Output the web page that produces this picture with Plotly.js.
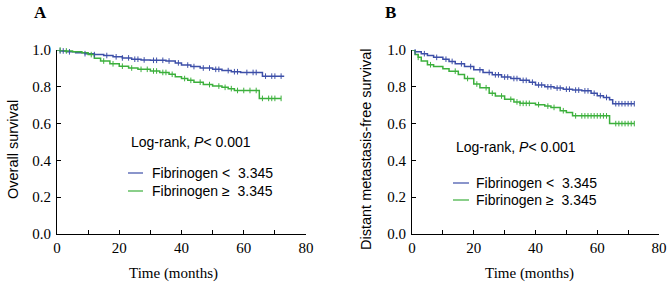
<!DOCTYPE html>
<html><head><meta charset="utf-8">
<script src="https://cdn.plot.ly/plotly-3.0.1.min.js"></script>
<style>html,body{margin:0;padding:0;background:#fff}</style>
</head><body><div id="c" style="width:669px;height:286px"></div>
<script>
// ---- Data ----
// Panel A: Overall survival
const osLowT  = [0,1,3,6,9,12,15,18,21,24,27,30,35,38,40,43,46,50,53,56,59,66,73];
const osLowS  = [1.0,0.995,0.99,0.985,0.98,0.975,0.97,0.963,0.957,0.95,0.946,0.944,0.94,0.93,0.918,0.91,0.902,0.895,0.888,0.882,0.878,0.858,0.858];
const osLowCens = [1,2,4,9,12,16,19,21,23,25,26,28,31,32,34,36,39,42,44,47,49,51,52,55,57,58,61,63,64,67,69,70,72];
const osHighT = [0,2,5,8,10,12,14,17,20,23,26,30,33,36,38,40,42,44,47,50,53,55,57,65,72];
const osHighS = [1.0,0.995,0.99,0.985,0.975,0.955,0.94,0.925,0.912,0.902,0.895,0.886,0.878,0.868,0.855,0.845,0.835,0.825,0.812,0.804,0.797,0.79,0.78,0.737,0.737];
const osHighCens = [1,3,11,15,18,21,24,27,29,31,32,34,35,37,41,43,46,49,52,54,56,58,60,62,64,66,68,69,70,72];

// Panel B: Distant metastasis-free survival
const dmLowT  = [0,1,3,5,7,10,12,14,17,20,23,26,29,32,35,38,40,43,46,49,52,55,58,60,62,64,65,72];
const dmLowS  = [1.0,0.99,0.98,0.97,0.96,0.95,0.938,0.925,0.91,0.892,0.878,0.865,0.853,0.845,0.835,0.825,0.81,0.8,0.793,0.787,0.782,0.778,0.765,0.752,0.742,0.73,0.708,0.708];
const dmLowCens = [1,4,8,11,13,16,19,22,25,27,28,30,31,33,34,36,37,39,41,42,44,45,47,48,50,51,53,54,56,57,59,61,63,66,67,68,69,70,71,72];
const dmHighT = [0,1,2,3,5,7,10,12,15,17,20,22,25,27,30,33,35,40,43,45,48,50,52,64,72];
const dmHighS = [1.0,0.975,0.96,0.94,0.92,0.91,0.898,0.885,0.867,0.845,0.815,0.795,0.765,0.75,0.732,0.718,0.71,0.703,0.695,0.688,0.67,0.66,0.642,0.6,0.6];
const dmHighCens = [2,6,14,18,21,24,26,29,32,34,35,36,37,38,41,44,46,49,53,55,56,57,58,59,60,61,62,63,66,67,68,69,70,71,72];

const xTicks = [0,10,20,30,40,50,60,70,80];
const xTickText = ['0','','20','','40','','60','','80'];
const yTicks = [0,0.2,0.4,0.6,0.8,1.0];
const yTickText = ['0.0','0.2','0.4','0.6','0.8','1.0'];

const labelLow = 'Fibrinogen <\u00A0\u00A03.345';
const labelHigh = 'Fibrinogen \u2265\u00A0\u00A03.345';
const pText = 'Log-rank, <i>P</i>< 0.001';

// ---- Styles ----
const BLUE = '#3d4fa8';
const GREEN = '#3cb03c';
const W = 669, H = 286;
const px = v => v / W;
const py = v => 1 - v / H;

function stepAt(ts, ss, t) {
  let v = ss[0];
  for (let i = 0; i < ts.length; i++) { if (ts[i] <= t) v = ss[i]; }
  return v;
}
function curve(ts, ss, color, xa, ya) {
  return {x: ts, y: ss, xaxis: xa, yaxis: ya, mode: 'lines', line: {shape: 'hv', color: color, width: 1.5},
          cliponaxis: false, showlegend: false, hoverinfo: 'skip'};
}
function cens(times, ts, ss, color, xa, ya) {
  return {x: times, y: times.map(t => stepAt(ts, ss, t)), xaxis: xa, yaxis: ya, mode: 'markers',
          marker: {symbol: 'line-ns', size: 4, color: color, line: {color: color, width: 1}},
          cliponaxis: false, showlegend: false, hoverinfo: 'skip'};
}

const data = [
  curve(osLowT, osLowS, BLUE, 'x', 'y'),
  curve(osHighT, osHighS, GREEN, 'x', 'y'),
  cens(osLowCens, osLowT, osLowS, BLUE, 'x', 'y'),
  cens(osHighCens, osHighT, osHighS, GREEN, 'x', 'y'),
  curve(dmLowT, dmLowS, BLUE, 'x2', 'y2'),
  curve(dmHighT, dmHighS, GREEN, 'x2', 'y2'),
  cens(dmLowCens, dmLowT, dmLowS, BLUE, 'x2', 'y2'),
  cens(dmHighCens, dmHighT, dmHighS, GREEN, 'x2', 'y2')
];

const serif = 'Liberation Serif, Times New Roman, serif';
const sans = 'Liberation Sans, Arial, sans-serif';

function xax(domain, anchor) {
  return {domain: domain, anchor: anchor, range: [0, 80], tickmode: 'array', tickvals: xTicks, ticktext: xTickText,
    ticks: 'inside', ticklen: 4, tickwidth: 1, tickcolor: '#000', showline: true, linecolor: '#000', linewidth: 1,
    showgrid: false, zeroline: false, tickfont: {family: serif, size: 15, color: '#000'}, fixedrange: true};
}
function yax(domain, anchor) {
  return {domain: domain, anchor: anchor, range: [0, 1], tickmode: 'array', tickvals: yTicks, ticktext: yTickText,
    ticks: 'inside', ticklen: 4, tickwidth: 1, tickcolor: '#000', showline: true, linecolor: '#000', linewidth: 1,
    showgrid: false, zeroline: false, tickfont: {family: serif, size: 15, color: '#000'}, ticklabelstandoff: 2, fixedrange: true};
}

const yDom = [py(234), py(50)];
function ann(text, x, y, opts) {
  return Object.assign({text: text, x: px(x), y: py(y), xref: 'paper', yref: 'paper', showarrow: false,
    xanchor: 'left', yanchor: 'middle', font: {family: sans, size: 14, color: '#000'}}, opts || {});
}
function seg(x0, x1, y, color) {
  return {type: 'line', xref: 'paper', yref: 'paper', x0: px(x0), x1: px(x1), y0: py(y), y1: py(y),
    line: {color: color, width: 1.2}};
}

const layout = {
  width: W, height: H, margin: {l: 0, r: 0, t: 0, b: 0}, paper_bgcolor: '#fff', plot_bgcolor: '#fff',
  showlegend: false,
  xaxis: xax([px(57), px(306)], 'y'),
  yaxis: yax(yDom, 'x'),
  xaxis2: xax([px(412), px(659)], 'y2'),
  yaxis2: yax(yDom, 'x2'),
  annotations: [
    ann('<b>A</b>', 32, 12, {font: {family: serif, size: 17, color: '#000'}}),
    ann('<b>B</b>', 383, 12, {font: {family: serif, size: 17, color: '#000'}}),
    ann('Overall survival', 13, 150, {xanchor: 'center', textangle: -90, font: {family: sans, size: 14.5, color: '#000'}}),
    ann('Distant metastasis-free survival', 366, 150, {xanchor: 'center', textangle: -90, font: {family: sans, size: 14.5, color: '#000'}}),
    ann('Time (months)', 174, 273, {xanchor: 'center', font: {family: serif, size: 15, color: '#000'}}),
    ann('Time (months)', 529, 273, {xanchor: 'center', font: {family: serif, size: 15, color: '#000'}}),
    ann(pText, 129, 142),
    ann(labelLow, 150, 173),
    ann(labelHigh, 150, 191),
    ann(pText, 454, 147),
    ann(labelLow, 474, 183),
    ann(labelHigh, 474, 200)
  ],
  shapes: [
    seg(128, 143, 173, BLUE), seg(128, 143, 191, GREEN),
    seg(453, 469, 183, BLUE), seg(453, 469, 200, GREEN)
  ]
};

Plotly.newPlot('c', data, layout, {staticPlot: true, displayModeBar: false});
</script>
</body></html>
